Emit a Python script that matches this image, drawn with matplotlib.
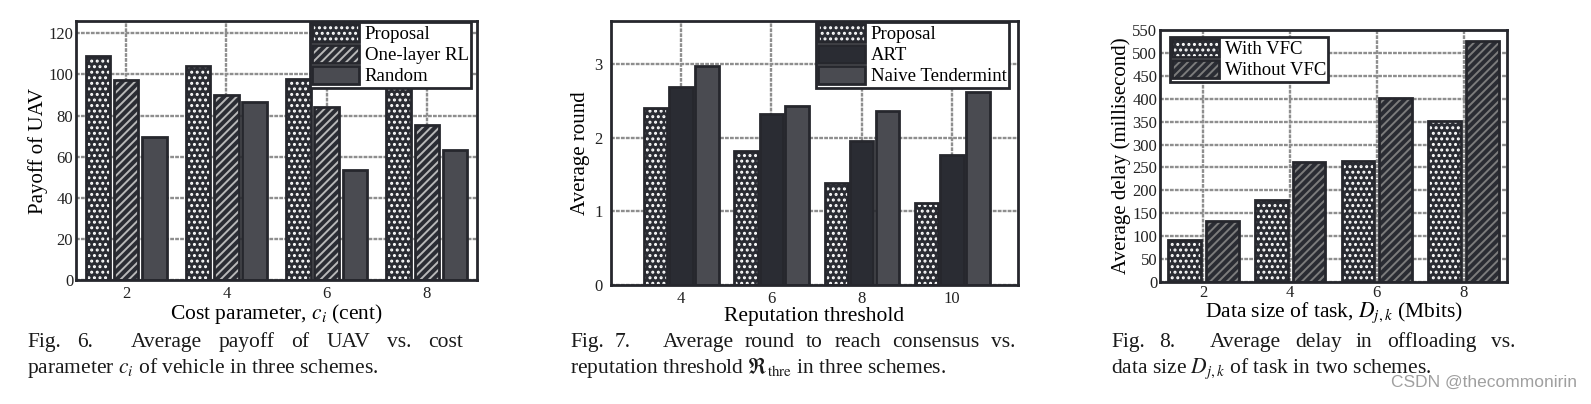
import matplotlib
matplotlib.use("Agg")
import matplotlib.pyplot as plt
from matplotlib.patches import Patch
from matplotlib.legend_handler import HandlerTuple

# Fig. 6 - payoff of UAV vs cost parameter
cost_params = [2, 4, 6, 8]
payoff_proposal = [108.8, 104.0, 97.7, 94.7]
payoff_one_layer = [97.2, 89.9, 84.0, 75.6]
payoff_random = [69.6, 86.8, 53.6, 63.2]

# Fig. 7 - average round vs reputation threshold
rep_thresholds = [4, 6, 8, 10]
round_proposal = [2.41, 1.82, 1.39, 1.11]
round_art = [2.69, 2.32, 1.96, 1.77]
round_naive = [2.98, 2.43, 2.36, 2.62]

# Fig. 8 - average delay vs data size
data_sizes = [2, 4, 6, 8]
delay_with_vfc = [91, 178, 264, 352]
delay_without_vfc = [133, 262, 402, 527]

W, H = 1591, 404
DARK = "#2a2c33"
EDGE = "#26272d"
MID = "#4a4b51"
GRID = "#8e8e8e"

plt.rcParams["font.family"] = ["Liberation Serif", "DejaVu Serif"]
plt.rcParams["mathtext.fontset"] = "stix"
plt.rcParams["hatch.linewidth"] = 1.4


def px_axes(fig, left, top, right, bottom):
    return fig.add_axes([left / W, 1 - bottom / H, (right - left) / W, (bottom - top) / H])


def bars(ax, x, heights, width, face, hatch=None, hatch_color="white"):
    ax.bar(x, heights, width, color=face, edgecolor=hatch_color if hatch else face,
           linewidth=0, hatch=hatch, zorder=2)
    ax.bar(x, heights, width, fill=False, edgecolor=EDGE, linewidth=2, zorder=3)
    return (Patch(facecolor=face, edgecolor=hatch_color if hatch else face, linewidth=0, hatch=hatch),
            Patch(facecolor="none", edgecolor=EDGE, linewidth=2))


def style_axes(ax, xlim, ylim, xticks, yticks, xpad, ypad):
    ax.set_xlim(*xlim)
    ax.set_ylim(*ylim)
    ax.set_xticks(xticks)
    ax.set_yticks(yticks)
    ax.set_axisbelow(True)
    ax.grid(True, color=GRID, linestyle=(0, (1.6, 0.5)), linewidth=1.7, zorder=0)
    ax.tick_params(axis="x", length=0, pad=xpad, labelsize=12, colors="#222222")
    ax.tick_params(axis="y", length=0, pad=ypad, labelsize=12, colors="#222222")
    for s in ax.spines.values():
        s.set_linewidth(2)
        s.set_color(EDGE)
        s.set_zorder(4)


def add_legend(ax, handles, labels, loc, anchor):
    leg = ax.legend(handles, labels, loc=loc, bbox_to_anchor=anchor, borderaxespad=0,
                    handler_map={tuple: HandlerTuple(ndivide=1)},
                    fancybox=False, framealpha=1, edgecolor=EDGE, fontsize=13.5,
                    handlelength=2.5, handleheight=1.05, handletextpad=0.3,
                    labelspacing=0.1, borderpad=0.12)
    leg.get_frame().set_linewidth(2)
    leg.set_zorder(5)


def caption(fig, words, x0, x1, y, size=15.5, quad=20):
    r = fig.canvas.get_renderer()
    texts = [fig.text(0, 1 - y / H, w, fontsize=size, va="baseline", color="#1a1a1a") for w in words]
    widths = [t.get_window_extent(r).width for t in texts]
    gap = (x1 - x0 - sum(widths) - quad) / (len(words) - 1)
    x = x0
    for i, (t, w) in enumerate(zip(texts, widths)):
        t.set_x(x / W)
        x += w + gap + (quad if i == 1 else 0)


fig = plt.figure(figsize=(W / 100, H / 100), dpi=100)

# ---- Fig. 6
ax1 = px_axes(fig, 76, 21, 477, 280)
h1 = bars(ax1, [c - 0.565 for c in cost_params], payoff_proposal, 0.49, DARK, "...")
h2 = bars(ax1, cost_params, payoff_one_layer, 0.49, DARK, "////", "#b8b8b8")
h3 = bars(ax1, [c + 0.565 for c in cost_params], payoff_random, 0.49, MID)
style_axes(ax1, (1, 9), (0, 126), cost_params, range(0, 121, 20), 4, 2)
ax1.set_xlabel("Cost parameter, $c_i$ (cent)", fontsize=15.5, labelpad=0)
ax1.set_ylabel("Payoff of UAV", fontsize=15, labelpad=0)
add_legend(ax1, [h1, h2, h3], ["Proposal", "One-layer RL", "Random"], "upper right", (0.985, 0.996))

# ---- Fig. 7
ax2 = px_axes(fig, 611, 21, 1018, 285)
g1 = bars(ax2, [t - 0.56 for t in rep_thresholds], round_proposal, 0.52, DARK, "...")
g2 = bars(ax2, rep_thresholds, round_art, 0.52, DARK)
g3 = bars(ax2, [t + 0.57 for t in rep_thresholds], round_naive, 0.52, MID)
style_axes(ax2, (2.45, 11.46), (0, 3.59), rep_thresholds, [0, 1, 2, 3], 4, 6)
ax2.set_xlabel("Reputation threshold", fontsize=15.5, labelpad=0)
ax2.set_ylabel("Average round", fontsize=15, labelpad=3)
add_legend(ax2, [g1, g2, g3], ["Proposal", "ART", "Naive Tendermint"], "upper right", (0.978, 0.996))

# ---- Fig. 8
ax3 = px_axes(fig, 1160, 30, 1507, 282)
k1 = bars(ax3, [d - 0.435 for d in data_sizes], delay_with_vfc, 0.76, DARK, "...")
k2 = bars(ax3, [d + 0.435 for d in data_sizes], delay_without_vfc, 0.76, DARK, "////", "#7c7c7c")
style_axes(ax3, (1, 9), (0, 550), data_sizes, range(0, 551, 50), 2, 2)
ax3.set_xlabel("Data size of task, $D_{j,k}$ (Mbits)", fontsize=15.5, labelpad=0)
ax3.set_ylabel("Average delay (millisecond)", fontsize=15, labelpad=1)
add_legend(ax3, [k1, k2], ["With VFC", "Without VFC"], "upper left", (0.029, 0.972))

# ---- captions
caption(fig, ["Fig.", "6.", "Average", "payoff", "of", "UAV", "vs.", "cost"], 27, 463, 347)
fig.text(27 / W, 1 - 373 / H, "parameter $c_i$ of vehicle in three schemes.",
         fontsize=15.5, va="baseline", color="#1a1a1a")
caption(fig, ["Fig.", "7.", "Average", "round", "to", "reach", "consensus", "vs."], 570, 1015, 347)
fig.text(570 / W, 1 - 373 / H, r"reputation threshold $\Re_{\mathrm{thre}}$ in three schemes.",
         fontsize=15.5, va="baseline", color="#1a1a1a")
caption(fig, ["Fig.", "8.", "Average", "delay", "in", "offloading", "vs."], 1111, 1515, 347)
fig.text(1111 / W, 1 - 373 / H, "data size $D_{j,k}$ of task in two schemes.",
         fontsize=15.5, va="baseline", color="#1a1a1a")

fig.text(1577 / W, 1 - 382 / H, "CSDN @thecommonirin", fontsize=12.5, ha="right", va="center",
         color="#a0a0a0", family=["Liberation Sans", "DejaVu Sans"])

fig.savefig("out.png", dpi=100)
